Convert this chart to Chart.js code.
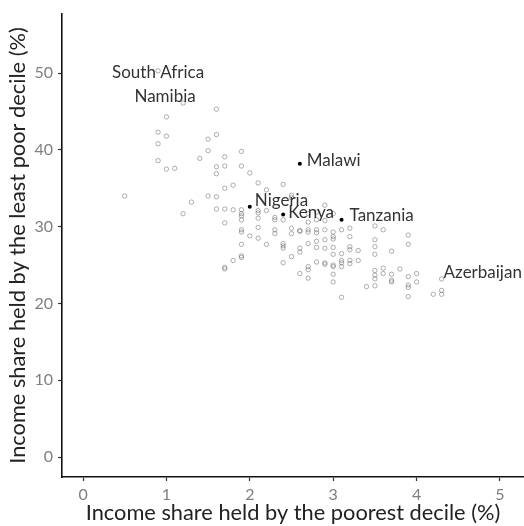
<!DOCTYPE html>
<html>
<head>
<meta charset="utf-8">
<script src="https://cdn.jsdelivr.net/npm/chart.js@4/dist/chart.umd.min.js"></script>
<style>
  html, body { margin: 0; padding: 0; background: #fff; }
  #wrap { width: 524px; height: 526px; }
</style>
</head>
<body>
<div id="wrap"><canvas id="chartDeciles" width="524" height="526"></canvas></div>
<script>
// income share of the poorest decile (x) vs the richest decile (y), one point per country
const poorestShare = [
  0.5,
  0.9, 0.9, 0.9,
  1.0, 1.0, 1.0,
  1.1,
  1.2,
  1.3,
  1.4,
  1.5, 1.5, 1.5,
  1.6, 1.6, 1.6, 1.6, 1.6, 1.6,
  1.7, 1.7, 1.7, 1.7, 1.7, 1.7, 1.7,
  1.8, 1.8, 1.8,
  1.9, 1.9, 1.9, 1.9, 1.9, 1.9, 1.9, 1.9, 1.9, 1.9, 1.9,
  2.0, 2.0,
  2.1, 2.1, 2.1, 2.1, 2.1, 2.1,
  2.2, 2.2, 2.2,
  2.3, 2.3, 2.3, 2.3,
  2.4, 2.4, 2.4, 2.4, 2.4, 2.4,
  2.5, 2.5, 2.5, 2.5, 2.5,
  2.6, 2.6, 2.6, 2.6, 2.6,
  2.7, 2.7, 2.7, 2.7, 2.7, 2.7, 2.7, 2.7,
  2.8, 2.8, 2.8, 2.8, 2.8, 2.8, 2.8,
  2.9, 2.9, 2.9, 2.9, 2.9, 2.9, 2.9,
  3.0, 3.0, 3.0, 3.0, 3.0, 3.0, 3.0, 3.0, 3.0, 3.0,
  3.1, 3.1, 3.1, 3.1, 3.1, 3.1,
  3.2, 3.2, 3.2, 3.2, 3.2, 3.2,
  3.3, 3.3,
  3.4,
  3.5, 3.5, 3.5, 3.5, 3.5, 3.5, 3.5, 3.5,
  3.6, 3.6, 3.6,
  3.7, 3.7, 3.7, 3.7,
  3.8,
  3.9, 3.9, 3.9, 3.9, 3.9, 3.9,
  4.0, 4.0,
  4.2,
  4.3, 4.3
];
const richestShare = [
  34.0,
  42.3, 40.8, 38.6,
  44.3, 41.8, 37.5,
  37.6,
  31.7,
  33.2,
  38.9,
  41.4, 39.9, 34.0,
  45.3, 42.0, 37.8, 36.9, 33.9, 32.3,
  39.1, 37.9, 35.0, 32.3, 30.5, 24.7, 24.5,
  35.4, 32.2, 25.6,
  39.8, 37.9, 32.2, 31.7, 31.4, 30.9, 29.6, 29.3, 27.7, 26.2, 26.0,
  37.0, 28.8,
  35.7, 32.1, 31.8, 31.1, 29.9, 28.5,
  34.8, 32.1, 27.7,
  31.2, 30.9, 29.6, 29.1,
  35.5, 30.9, 27.8, 27.5, 27.2, 25.3,
  34.1, 33.8, 29.8, 29.1, 26.1,
  29.5, 29.4, 27.2, 26.7, 23.9,
  31.7, 30.6, 29.6, 29.3, 27.8, 24.8, 24.4, 23.3,
  31.9, 30.9, 29.6, 29.2, 28.1, 27.3, 25.4,
  32.8, 30.8, 29.6, 28.3, 27.2, 25.3, 25.1,
  31.7, 29.3, 28.7, 28.4, 27.3, 26.4, 25.0, 24.8, 23.8, 22.8,
  29.6, 26.5, 25.6, 25.3, 24.8, 20.8,
  29.8, 28.7, 27.4, 27.0, 25.6, 25.2,
  26.9, 25.6,
  22.2,
  30.1, 28.3, 27.4, 26.4, 24.3, 23.7, 23.2, 22.3,
  29.6, 24.6, 23.9,
  26.8, 23.8, 23.0, 22.8,
  24.5,
  28.9, 27.7, 23.5, 22.4, 22.1, 20.9,
  23.9, 22.8,
  21.2,
  21.7, 21.2
];

// countries that get a name next to their point
const namedCountries = ['South Africa', 'Namibia', 'Azerbaijan', 'Malawi', 'Nigeria', 'Kenya', 'Tanzania'];
const namedPoorest = [0.9, 1.2, 4.3, 2.6, 2.0, 2.4, 3.1];
const namedRichest = [50.3, 46.1, 23.2, 38.2, 32.6, 31.6, 30.9];
// these ones get a solid dot
const markedCountries = ['Malawi', 'Nigeria', 'Kenya', 'Tanzania'];

const xTicks = [0, 1, 2, 3, 4, 5];
const yTicks = [0, 10, 20, 30, 40, 50];

const FONT = 'Lato, "Open Sans", sans-serif';

// where each name sits relative to its point
const labelPlace = {
  'South Africa': { align: 'center', dx: 0, dy: 2 },
  'Namibia': { align: 'center', dx: -18, dy: -7 },
  'Azerbaijan': { align: 'left', dx: 2, dy: -6 },
  'Malawi': { align: 'left', dx: 7, dy: -3 },
  'Nigeria': { align: 'left', dx: 5, dy: -6 },
  'Kenya': { align: 'left', dx: 5, dy: -2 },
  'Tanzania': { align: 'left', dx: 8, dy: -4 }
};

const hollowPts = poorestShare.map((x, i) => ({ x, y: richestShare[i] }));
const solidPts = [];
namedCountries.forEach((name, i) => {
  const p = { x: namedPoorest[i], y: namedRichest[i] };
  if (markedCountries.includes(name)) solidPts.push(p);
  else hollowPts.push(p);
});

const countryLabels = {
  id: 'countryLabels',
  afterDatasetsDraw(chart) {
    const { ctx, scales } = chart;
    ctx.save();
    ctx.font = '17px ' + FONT;
    ctx.fillStyle = '#333';
    ctx.textBaseline = 'middle';
    namedCountries.forEach((name, i) => {
      const pl = labelPlace[name];
      ctx.textAlign = pl.align;
      const px = scales.x.getPixelForValue(namedPoorest[i]) + pl.dx;
      const py = scales.y.getPixelForValue(namedRichest[i]) + pl.dy;
      ctx.fillText(name, px, py);
    });
    ctx.restore();
  }
};

const axisCommon = {
  border: { display: true, color: '#111', width: 1.6 },
  grid: { display: true, drawOnChartArea: false, drawTicks: true, tickLength: 4, color: '#333', tickWidth: 1.2 },
  ticks: { color: '#7f7f7f', font: { family: FONT, size: 16 } }
};

new Chart(document.getElementById('chartDeciles').getContext('2d'), {
  type: 'scatter',
  data: {
    datasets: [
      {
        data: hollowPts,
        pointRadius: 2.2,
        pointBorderWidth: 0.9,
        borderColor: 'rgba(80,80,80,0.5)',
        backgroundColor: 'rgba(0,0,0,0)'
      },
      {
        data: solidPts,
        pointRadius: 2,
        pointBorderWidth: 0,
        borderColor: '#000',
        backgroundColor: '#000'
      }
    ]
  },
  options: {
    responsive: false,
    animation: false,
    layout: { autoPadding: false, padding: { top: 14, right: 0, left: 0, bottom: 0 } },
    plugins: { legend: { display: false }, tooltip: { enabled: false } },
    scales: {
      x: {
        ...axisCommon,
        type: 'linear',
        min: -0.252,
        max: 5.288,
        afterBuildTicks: s => { s.ticks = xTicks.map(v => ({ value: v })); },
        afterFit: s => { s.height = 49; s.paddingLeft = 0; s.paddingRight = 0; },
        ticks: { ...axisCommon.ticks, padding: 4 },
        title: {
          display: true,
          text: 'Income share held by the poorest decile (%)',
          color: '#222',
          font: { family: FONT, size: 21.8 },
          padding: { top: -3, bottom: 0 }
        }
      },
      y: {
        ...axisCommon,
        type: 'linear',
        min: -2.6,
        max: 57.7,
        afterBuildTicks: s => { s.ticks = yTicks.map(v => ({ value: v })); },
        afterFit: s => { s.width = 62; s.paddingTop = 0; s.paddingBottom = 0; },
        ticks: { ...axisCommon.ticks, padding: 5 },
        title: {
          display: true,
          text: 'Income share held by the least poor decile (%)',
          color: '#222',
          font: { family: FONT, size: 21.8 },
          padding: { top: 5, bottom: 0 }
        }
      }
    }
  },
  plugins: [countryLabels]
});
</script>
</body>
</html>
